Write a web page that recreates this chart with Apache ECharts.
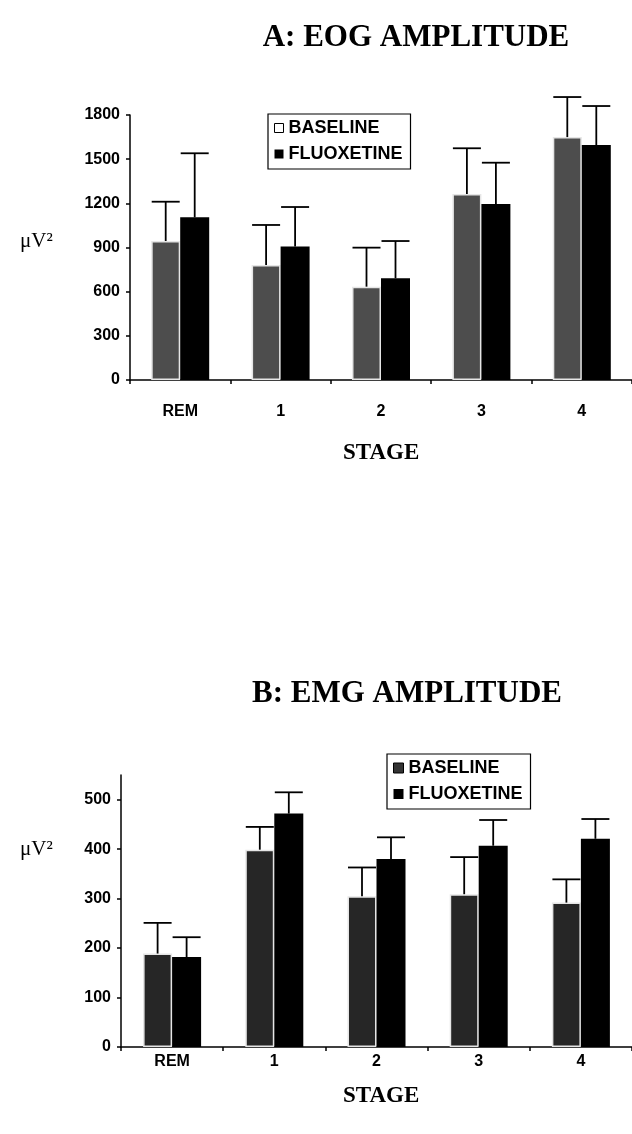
<!DOCTYPE html>
<html><head><meta charset="utf-8">
<script src="https://cdn.jsdelivr.net/npm/echarts@6/dist/echarts.min.js"></script>
<style>html,body{margin:0;padding:0;background:#fff}#c{width:632px;height:1134px}</style>
</head><body><div id="c"></div>
<script>
const stages = ['REM', '1', '2', '3', '4'];
const seriesNames = ['BASELINE', 'FLUOXETINE'];
// A: EOG amplitude (µV²)
const eogBaseline = [944, 781, 634, 1263, 1650];
const eogBaselineErr = [267, 272, 265, 311, 272];
const eogFluoxetine = [1105, 906, 691, 1195, 1596];
const eogFluoxetineErr = [435, 269, 253, 281, 265];
const eogTicks = [0, 300, 600, 900, 1200, 1500, 1800];
// B: EMG amplitude (µV²)
const emgBaseline = [189, 399, 305, 309, 292];
const emgBaselineErr = [62, 46, 58, 75, 47];
const emgFluoxetine = [182, 472, 380, 407, 421];
const emgFluoxetineErr = [40, 43, 44, 52, 40];
const emgTicks = [0, 100, 200, 300, 400, 500];

const SANS = '"Liberation Sans", Arial, sans-serif';
const SERIF = '"Liberation Serif", "Times New Roman", serif';
const BW = 29;

function errSeries(gi, means, errs, side) {
  return {
    type: 'custom', xAxisIndex: gi, yAxisIndex: gi, z: 5, silent: true,
    data: means.map((m, i) => [i, m, errs[i]]),
    encode: { x: 0, y: 1 },
    renderItem: function (params, api) {
      const i = api.value(0), m = api.value(1), e = api.value(2);
      const p0 = api.coord([i, m]);
      const p1 = api.coord([i, m + e]);
      const x = p0[0] + side * BW / 2;
      const hw = 14;
      return {
        type: 'group', children: [
          { type: 'line', shape: { x1: x, y1: p0[1], x2: x, y2: p1[1] }, style: { stroke: '#000', lineWidth: 1.8 } },
          { type: 'line', shape: { x1: x - hw, y1: p1[1], x2: x + hw, y2: p1[1] }, style: { stroke: '#000', lineWidth: 1.8 } }
        ]
      };
    }
  };
}

function barSeries(gi, name, vals, color, border) {
  return {
    type: 'bar', name: name, xAxisIndex: gi, yAxisIndex: gi, data: vals,
    barWidth: BW, barGap: '0%',
    itemStyle: border ? { color: color, borderColor: '#e6e6e6', borderWidth: 1.5 } : { color: color },
    emphasis: { disabled: true }
  };
}

const labelStyle = { color: '#000', fontFamily: SANS, fontWeight: 'bold', fontSize: 16 };
const plain = v => String(v);

const option = {
  animation: false,
  backgroundColor: '#fff',
  title: [
    { text: 'A: EOG AMPLITUDE', left: 411, top: 17, textAlign: 'center',
      textStyle: { fontFamily: SERIF, fontWeight: 'bold', fontSize: 31, color: '#000' } },
    { text: 'B: EMG AMPLITUDE', left: 402, top: 673, textAlign: 'center',
      textStyle: { fontFamily: SERIF, fontWeight: 'bold', fontSize: 31, color: '#000' } }
  ],
  legend: [
    { orient: 'vertical', left: 268, top: 114, padding: [5, 8, 6, 6], itemGap: 8,
      itemWidth: 9, itemHeight: 9, icon: 'rect', borderColor: '#000', borderWidth: 1.2,
      textStyle: { fontFamily: SANS, fontWeight: 'bold', fontSize: 18, color: '#000' },
      data: [
        { name: seriesNames[0], itemStyle: { color: '#fff', borderColor: '#000', borderWidth: 1 } },
        { name: seriesNames[1], itemStyle: { color: '#000' } }
      ] },
    { orient: 'vertical', left: 387, top: 754, padding: [5, 8, 6, 6], itemGap: 8,
      itemWidth: 10, itemHeight: 10, icon: 'rect', borderColor: '#000', borderWidth: 1.2,
      textStyle: { fontFamily: SANS, fontWeight: 'bold', fontSize: 18, color: '#000' },
      data: [
        { name: seriesNames[0], itemStyle: { color: '#333', borderColor: '#000', borderWidth: 1 } },
        { name: seriesNames[1], itemStyle: { color: '#000' } }
      ] }
  ],
  grid: [
    { left: 130, top: 115, width: 506, height: 265 },
    { left: 121, top: 775, width: 514, height: 272 }
  ],
  xAxis: [0, 1].map(gi => ({
    type: 'category', gridIndex: gi, data: stages, boundaryGap: true,
    axisLine: { lineStyle: { color: '#000', width: 1.5 } },
    axisTick: { show: true, length: 4, lineStyle: { color: '#000', width: 1.5 } },
    axisLabel: Object.assign({ margin: gi === 0 ? 24 : 7 }, labelStyle),
    splitLine: { show: false }
  })),
  yAxis: [
    { type: 'value', gridIndex: 0, min: 0, max: 1800, interval: 300,
      axisLine: { show: true, lineStyle: { color: '#000', width: 1.5 } },
      axisTick: { show: true, length: 4, lineStyle: { color: '#000', width: 1.5 } },
      axisLabel: Object.assign({ margin: 10, customValues: eogTicks, formatter: plain }, labelStyle),
      splitLine: { show: false } },
    { type: 'value', gridIndex: 1, min: 0, max: 550, interval: 100,
      axisLine: { show: true, lineStyle: { color: '#000', width: 1.5 } },
      axisTick: { show: true, length: 4, customValues: emgTicks, lineStyle: { color: '#000', width: 1.5 } },
      axisLabel: Object.assign({ margin: 10, customValues: emgTicks, formatter: plain }, labelStyle),
      splitLine: { show: false } }
  ],
  graphic: [
    { type: 'text', left: 20, top: 231, style: { text: 'μV²', fontFamily: SERIF, fontSize: 21, fill: '#000' } },
    { type: 'text', left: 20, top: 839, style: { text: 'μV²', fontFamily: SERIF, fontSize: 21, fill: '#000' } },
    { type: 'text', left: 343, top: 442, style: { text: 'STAGE', fontFamily: SERIF, fontWeight: 'bold', fontSize: 23, fill: '#000' } },
    { type: 'text', left: 343, top: 1085, style: { text: 'STAGE', fontFamily: SERIF, fontWeight: 'bold', fontSize: 23, fill: '#000' } }
  ],
  series: [
    barSeries(0, seriesNames[0], eogBaseline, '#4d4d4d', true),
    barSeries(0, seriesNames[1], eogFluoxetine, '#000', false),
    errSeries(0, eogBaseline, eogBaselineErr, -1),
    errSeries(0, eogFluoxetine, eogFluoxetineErr, 1),
    barSeries(1, seriesNames[0], emgBaseline, '#262626', true),
    barSeries(1, seriesNames[1], emgFluoxetine, '#000', false),
    errSeries(1, emgBaseline, emgBaselineErr, -1),
    errSeries(1, emgFluoxetine, emgFluoxetineErr, 1)
  ]
};
const chart = echarts.init(document.getElementById('c'), null, { renderer: 'canvas' });
chart.setOption(option);
</script></body></html>
